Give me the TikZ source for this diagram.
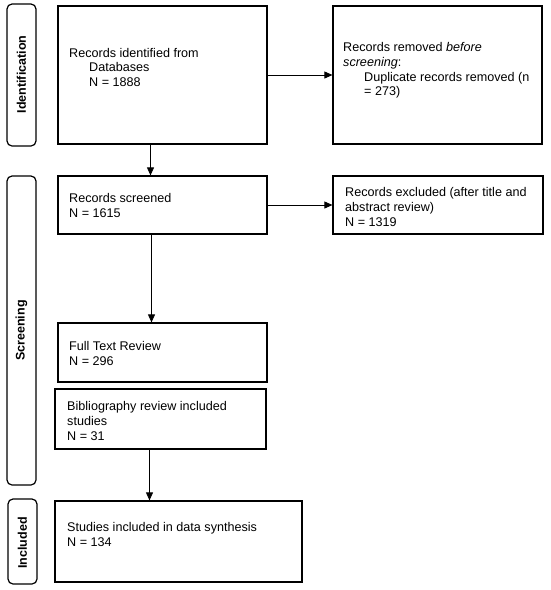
\documentclass[tikz,border=0pt]{standalone}
\usepackage{fontspec}
\setmainfont{Liberation Sans}
\usetikzlibrary{arrows.meta}
\tikzset{
  box/.style={draw=black, line width=1.2pt, rectangle, inner sep=0pt},
  stage/.style={draw=black, line width=1.2pt, rectangle, rounded corners=5pt, inner sep=0pt},
  txt/.style={font=\fontsize{12.6}{14.6}\selectfont, align=left, inner sep=0pt, anchor=north west},
  lbl/.style={font=\bfseries\fontsize{12.5}{14}\selectfont, rotate=90, inner sep=0pt},
  arr/.style={draw=black, line width=0.8pt, -{Triangle[length=8pt,width=7pt]}},
  ln/.style={draw=black, line width=0.8pt}
}
\begin{document}
\begin{tikzpicture}[x=1pt,y=-1pt]
\useasboundingbox (0,0) rectangle (550,590);
\fill[white] (0,0) rectangle (550,590);
% stage labels
\node[stage, minimum width=29pt, minimum height=142pt] (st1) at (21.5,75) {};
\node[lbl] (l1) at (21.5,74.5) {Identification};
\node[stage, minimum width=29pt, minimum height=309pt] (st2) at (21.5,330.5) {};
\node[lbl] (l2) at (21.5,330.5) {Screening};
\node[stage, minimum width=29pt, minimum height=85pt] (st3) at (22.5,541.5) {};
\node[lbl] (l3) at (22.5,543) {Included};
% boxes
\node[box, minimum width=209pt, minimum height=138pt] (b1) at (162.5,75) {};
\node[box, minimum width=209pt, minimum height=138pt] (b2) at (437.5,75) {};
\node[box, minimum width=209pt, minimum height=58pt] (b3) at (162.5,205) {};
\node[box, minimum width=210pt, minimum height=58pt] (b4) at (438,205) {};
\node[box, minimum width=209pt, minimum height=59pt] (b5) at (162.5,352.5) {};
\node[box, minimum width=211pt, minimum height=60pt] (b6) at (160.5,419) {};
\node[box, minimum width=247pt, minimum height=81pt] (b7) at (178.5,541.5) {};
% texts
\node[txt] (t1) at (69,48) {Records identified from\\\hspace*{20pt}Databases\\\hspace*{20pt}N = 1888};
\node[txt] (t2) at (343,42.5) {Records removed \textit{before}\\\textit{screening}:\\\hspace*{21pt}Duplicate records removed (n\\\hspace*{21pt}= 273)};
\node[txt] (t3) at (69,193.5) {Records screened\\N = 1615};
\node[txt] (t4) at (345,187.5) {Records excluded (after title and\\abstract review)\\N = 1319};
\node[txt] (t5) at (69,341.5) {Full Text Review\\N = 296};
\node[txt] (t6) at (67,401.5) {Bibliography review included\\studies\\N = 31};
\node[txt] (t7) at (67,522.5) {Studies included in data synthesis\\N = 134};
% connectors
\draw[arr] (b1.east) -- (b2.west);
\draw[arr] ([xshift=-12pt]b1.south) -- ([xshift=-12pt]b3.north);
\draw[arr] (b3.east) -- (b4.west);
\draw[arr] ([xshift=-11pt]b3.south) -- ([xshift=-11pt]b5.north);
\draw[arr] ([xshift=-11pt]b6.south) -- ([xshift=-29pt]b7.north);
\end{tikzpicture}
\end{document}
